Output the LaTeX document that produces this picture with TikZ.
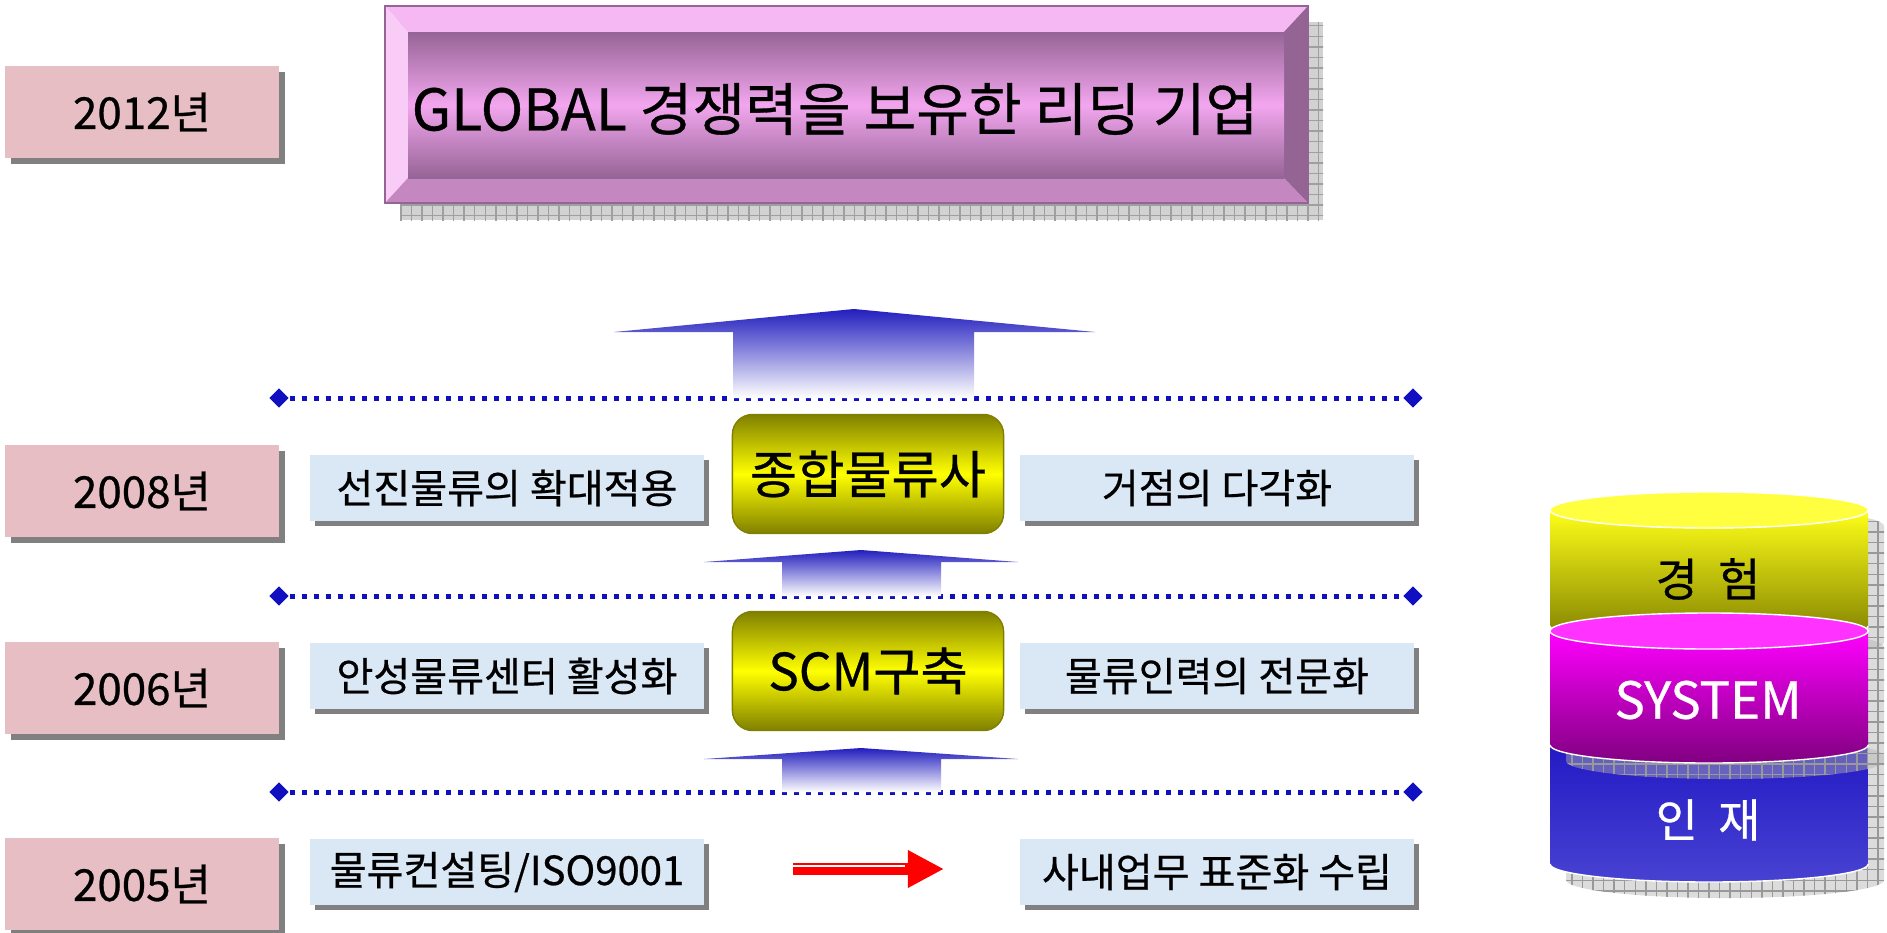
\documentclass[tikz,border=0pt]{standalone}
\usepackage{fontspec}
\setmainfont{Noto Sans CJK KR}[FakeBold=0.6]
\usetikzlibrary{calc,patterns,shadows,shapes.geometric,arrows.meta}

\definecolor{yearpink}{RGB}{231,190,196}
\definecolor{planblue}{RGB}{218,232,246}
\definecolor{boxshadow}{RGB}{128,128,128}
\definecolor{lineblue}{RGB}{16,16,192}
\definecolor{arrowblue}{RGB}{34,30,190}
\definecolor{stageolive}{RGB}{128,128,0}
\definecolor{bevelT}{RGB}{245,184,242}
\definecolor{bevelL}{RGB}{248,204,246}
\definecolor{bevelR}{RGB}{148,100,148}
\definecolor{bevelB}{RGB}{196,135,192}
\definecolor{faceD}{RGB}{150,100,150}
\definecolor{faceL}{RGB}{242,166,238}
\definecolor{cylYelT}{RGB}{255,255,24}
\definecolor{cylYelB}{RGB}{124,124,0}
\definecolor{cylYelL}{RGB}{255,255,64}
\definecolor{cylMagT}{RGB}{255,0,255}
\definecolor{cylMagB}{RGB}{128,0,128}
\definecolor{cylMagL}{RGB}{255,50,255}
\definecolor{cylBlueT}{RGB}{34,24,196}
\definecolor{cylBlueB}{RGB}{72,66,210}
\definecolor{cylBlueL}{RGB}{80,80,224}

\begin{document}
\begin{tikzpicture}[x=0.01cm, y=0.01cm,
	yearbox/.style={rectangle, fill=yearpink, minimum width=2.73cm, minimum height=0.92cm, inner sep=0pt,
		font=\fontsize{12.5}{15}\selectfont,
		drop shadow={shadow xshift=0.06cm, shadow yshift=-0.06cm, fill=boxshadow, opacity=1}},
	planbox/.style={rectangle, fill=planblue, minimum width=3.94cm, minimum height=0.66cm, inner sep=0pt,
		font=\fontsize{11.4}{13}\selectfont,
		drop shadow={shadow xshift=0.05cm, shadow yshift=-0.05cm, fill=boxshadow, opacity=1}},
	stagebox/.style={rectangle, rounded corners=0.2cm, draw=stageolive, thin, minimum width=2.71cm, minimum height=1.19cm,
		top color=stageolive, bottom color=stageolive, middle color=yellow, font=\fontsize{14.6}{17}\selectfont},
	dotline/.style={lineblue, line width=0.05cm, dash pattern=on 0.05cm off 0.07cm},
	endmark/.style={diamond, fill=lineblue, minimum width=0.2cm, minimum height=0.2cm, inner sep=0pt},
	uparrow/.style={top color=arrowblue, bottom color=white},
	gridshadow/.style={fill=gray!35, postaction={pattern=grid, pattern color=gray!75}},
	cylshadow/.style={fill=gray!60, fill opacity=0.45, postaction={pattern=grid, pattern color=gray!80}},
]
\useasboundingbox (0,0) rectangle (1887,-933);

%goal plate
\fill[gridshadow] (400,-22) rectangle (1323,-220);
\fill[bevelT] (385,-6) -- (1308,-6) -- (1284,-32) -- (408,-32) -- cycle;
\fill[bevelL] (385,-6) -- (408,-32) -- (408,-178) -- (385,-203) -- cycle;
\fill[bevelR] (1308,-6) -- (1308,-203) -- (1284,-178) -- (1284,-32) -- cycle;
\fill[bevelB] (385,-203) -- (1308,-203) -- (1284,-178) -- (408,-178) -- cycle;
\shade[top color=faceD, bottom color=faceD, middle color=faceL] (408,-32) rectangle (1284,-178);
\draw[bevelR, thin] (385,-6) rectangle (1308,-203);
\node[font=\fontsize{16.3}{19}\selectfont] (goal) at (835,-109) {GLOBAL 경쟁력을 보유한 리딩 기업};

%year labels
\foreach \yr/\yy in {2012/112, 2008/491, 2006/688, 2005/884}
{
	\node[yearbox] (year\yr) at (142,-\yy) {\yr{}년};
}

%dotted separators
\foreach \i/\yy in {1/398, 2/596, 3/792}
{
	\node[endmark] (mL\i) at (279,-\yy) {};
	\node[endmark] (mR\i) at (1413,-\yy) {};
	\draw[dotline] (mL\i) -- (mR\i);
}

%up arrows
\shade[uparrow] (614,-332) -- (854,-309) -- (1095,-332) -- (974,-332) -- (974,-398) -- (733,-398) -- (733,-332) -- cycle;
\shade[uparrow] (704,-562) -- (861,-550) -- (1018,-562) -- (941,-562) -- (941,-596) -- (782,-596) -- (782,-562) -- cycle;
\shade[uparrow] (704,-759) -- (861,-748) -- (1018,-759) -- (941,-759) -- (941,-792) -- (782,-792) -- (782,-759) -- cycle;

%stages
\node[stagebox] (total) at (868,-474) {종합물류사};
\node[stagebox] (scm) at (868,-671) {SCM구축};

%plans
\node[planbox] (adv) at (507,-488) {선진물류의 확대적용};
\node[planbox] (hub) at (1217,-488) {거점의 다각화};
\node[planbox] (anseong) at (507,-676) {안성물류센터 활성화};
\node[planbox] (staff) at (1217,-676) {물류인력의 전문화};
\node[planbox] (consult) at (507,-872) {물류컨설팅/ISO9001};
\node[planbox] (std) at (1217,-872) {사내업무 표준화 수립};

%red arrow
\coordinate (redtail) at (793,-869);
\coordinate (redhead) at (944,-869);
\draw[red, line width=0.12cm, -{Triangle[length=0.36cm, width=0.35cm]}] (redtail) -- (redhead);
\draw[white, line width=0.5pt] ($(redtail)+(0,3)$) -- ++(112,0);

%stacked cylinders
\foreach \ct/\cb/\cup/\cdown/\clid in {740/864/cylBlueT/cylBlueB/cylBlueL, 510/626/cylYelT/cylYelB/cylYelL, 631/745/cylMagT/cylMagB/cylMagL}
{
	\fill[cylshadow, shift={(16,-16)}] (1550,-\ct) -- (1550,-\cb) arc[start angle=180, end angle=360, x radius=1.59cm, y radius=0.18cm]
		-- (1868,-\ct) arc[start angle=0, end angle=180, x radius=1.59cm, y radius=0.18cm] -- cycle;
	\shade[top color=\cup, bottom color=\cdown] (1550,-\ct) -- (1550,-\cb) arc[start angle=180, end angle=360, x radius=1.59cm, y radius=0.18cm] -- (1868,-\ct) -- cycle;
	\draw[white, thin] (1550,-\cb) arc[start angle=180, end angle=360, x radius=1.59cm, y radius=0.18cm];
	\draw[white, thin, fill=\clid] (1709,-\ct) ellipse[x radius=1.59cm, y radius=0.18cm];
}
\node[font=\fontsize{13}{16}\selectfont] (exper) at (1708,-579) {경 \ 험};
\node[white, font=\fontsize{14.5}{17}\selectfont] (system) at (1708,-700) {SYSTEM};
\node[white, font=\fontsize{13}{16}\selectfont] (talent) at (1708,-820) {인 \ 재};
\end{tikzpicture}
\end{document}
